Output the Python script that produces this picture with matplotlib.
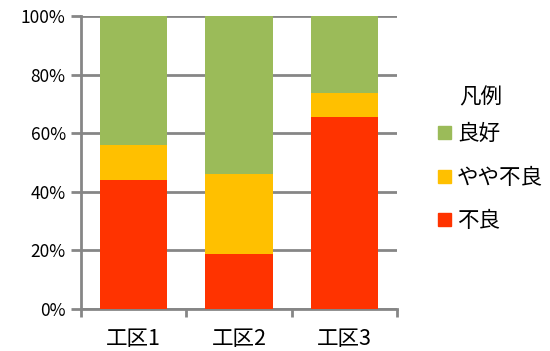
import matplotlib
matplotlib.use("Agg")
import matplotlib.pyplot as plt
from matplotlib.patches import Patch
import numpy as np

plt.rcParams['font.family'] = ['Noto Sans CJK JP', 'DejaVu Sans']

categories = ['工区1', '工区2', '工区3']
furyo = [44.0, 18.8, 65.5]        # 不良
yaya_furyo = [12.0, 27.2, 8.1]    # やや不良
ryoko = [44.0, 54.0, 26.4]        # 良好
series_names = ['不良', 'やや不良', '良好']
colors = ['#FF3300', '#FFC000', '#9BBB59']
yticks = [0, 20, 40, 60, 80, 100]
ytick_labels = ['0%', '20%', '40%', '60%', '80%', '100%']
legend_title = '凡例'

fig = plt.figure(figsize=(5.5, 3.51), dpi=100)
ax = fig.add_axes([0.1473, 0.1197, 0.5745, 0.8347])

x = np.arange(len(categories))
data = [furyo, yaya_furyo, ryoko]
bottom = np.zeros(len(categories))
for vals, c, n in zip(data, colors, series_names):
    ax.bar(x, vals, width=0.64, bottom=bottom, color=c, label=n, zorder=3)
    bottom += np.array(vals)

grid_c = '#868686'
ax.set_xlim(-0.5, len(categories) - 0.5)
ax.set_ylim(0, 100)
ax.set_yticks(yticks)
ax.set_yticklabels(ytick_labels, fontsize=12.5)
ax.yaxis.grid(True, color=grid_c, linewidth=2, zorder=0)
ax.set_axisbelow(True)
ax.tick_params(axis='y', length=7, width=2, color=grid_c, pad=4)

ax.set_xticks(x)
ax.set_xticklabels(categories, fontsize=15.5)
ax.set_xticks(np.arange(len(categories) + 1) - 0.5, minor=True)
ax.tick_params(axis='x', which='major', length=0, pad=14)
ax.tick_params(axis='x', which='minor', length=6, width=2, color=grid_c)

for s in ['top', 'right']:
    ax.spines[s].set_visible(False)
for s in ['left', 'bottom']:
    ax.spines[s].set_color(grid_c)
    ax.spines[s].set_linewidth(2)

handles = [Patch(color=c) for c in colors][::-1]
labels = series_names[::-1]
leg = fig.legend(handles, labels, loc='upper left',
                 bbox_to_anchor=(0.762, 0.704), frameon=False, fontsize=15.5,
                 handlelength=0.56, handleheight=0.56,
                 handletextpad=0.3, labelspacing=1.0)
fig.text(459 / 550, 1 - 97 / 351, legend_title, fontsize=15.5,
         ha='left', va='center')

fig.savefig('out.png', dpi=100)
